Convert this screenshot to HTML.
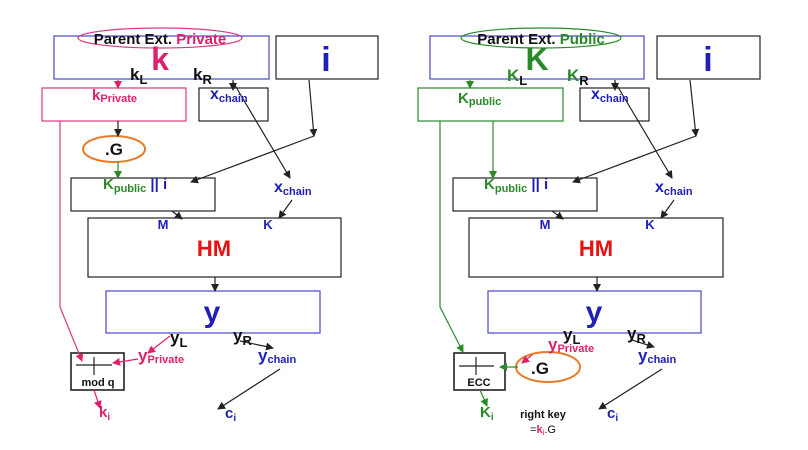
<!DOCTYPE html>
<html><head><meta charset="utf-8"><style>
html,body{margin:0;padding:0;background:#fff;}
svg{display:block;font-family:"Liberation Sans",Arial,sans-serif;font-weight:bold;}
</style></head><body>
<svg width="808" height="450" viewBox="0 0 808 450" xmlns="http://www.w3.org/2000/svg">
<defs>
<marker id="ab" markerWidth="8" markerHeight="8" refX="7" refY="4" orient="auto" markerUnits="userSpaceOnUse"><path d="M0,0 L8,4 L0,8 z" fill="#222"/></marker>
<marker id="ap" markerWidth="8" markerHeight="8" refX="7" refY="4" orient="auto" markerUnits="userSpaceOnUse"><path d="M0,0 L8,4 L0,8 z" fill="#e0206a"/></marker>
<marker id="ag" markerWidth="8" markerHeight="8" refX="7" refY="4" orient="auto" markerUnits="userSpaceOnUse"><path d="M0,0 L8,4 L0,8 z" fill="#2a8a2a"/></marker>
</defs>
<g fill="none" stroke-width="1.2">
<!-- LEFT -->
<rect x="54" y="36" width="215" height="43" stroke="#4848c8"/>
<rect x="276" y="36" width="102" height="43" stroke="#222"/>
<rect x="42" y="88" width="144" height="33" stroke="#d83a80"/>
<rect x="199" y="88" width="69" height="33" stroke="#222"/>
<rect x="71" y="178" width="144" height="33" stroke="#222"/>
<rect x="88" y="218" width="253" height="59" stroke="#222"/>
<rect x="106" y="291" width="214" height="42" stroke="#4848c8"/>
<rect x="71" y="353" width="53" height="37" stroke="#222" stroke-width="1.6"/>
<line x1="76" y1="365" x2="112" y2="365" stroke="#222"/>
<line x1="94" y1="357" x2="94" y2="375" stroke="#222"/>
<ellipse cx="160" cy="38" rx="82" ry="10" stroke="#d83a80"/>
<ellipse cx="114" cy="149" rx="31" ry="13" stroke="#e87a28" stroke-width="2"/>
<line x1="118" y1="80" x2="118" y2="88" stroke="#e0206a" marker-end="url(#ap)"/>
<line x1="233" y1="80" x2="233" y2="90" stroke="#222" marker-end="url(#ab)"/>
<line x1="233" y1="82" x2="290" y2="178" stroke="#222" marker-end="url(#ab)"/>
<line x1="309" y1="80" x2="314" y2="136" stroke="#222" marker-end="url(#ab)"/>
<line x1="314" y1="136" x2="191" y2="182" stroke="#222" marker-end="url(#ab)"/>
<line x1="118" y1="121" x2="118" y2="136" stroke="#222" marker-end="url(#ab)"/>
<line x1="118" y1="162" x2="118" y2="178" stroke="#2a8a2a" marker-end="url(#ag)"/>
<line x1="172" y1="211" x2="182" y2="219" stroke="#222" marker-end="url(#ab)"/>
<line x1="292" y1="200" x2="279" y2="218" stroke="#222" marker-end="url(#ab)"/>
<line x1="215" y1="277" x2="215" y2="291" stroke="#222" marker-end="url(#ab)"/>
<polyline points="60,121 60,307 82,361" stroke="#d83a80" marker-end="url(#ap)"/>
<line x1="170" y1="336" x2="148" y2="353" stroke="#e0206a" marker-end="url(#ap)"/>
<line x1="138" y1="359" x2="113" y2="363" stroke="#e0206a" marker-end="url(#ap)"/>
<line x1="94" y1="390" x2="100" y2="408" stroke="#e0206a" marker-end="url(#ap)"/>
<line x1="240" y1="341" x2="273" y2="348" stroke="#222" marker-end="url(#ab)"/>
<line x1="280" y1="369" x2="218" y2="409" stroke="#222" marker-end="url(#ab)"/>
<!-- RIGHT -->
<rect x="430" y="36" width="214" height="43" stroke="#4848c8"/>
<rect x="657" y="36" width="103" height="43" stroke="#222"/>
<rect x="418" y="88" width="145" height="33" stroke="#2a8a2a"/>
<rect x="580" y="88" width="69" height="33" stroke="#222"/>
<rect x="453" y="178" width="144" height="33" stroke="#222"/>
<rect x="469" y="218" width="254" height="59" stroke="#222"/>
<rect x="488" y="291" width="213" height="42" stroke="#4848c8"/>
<rect x="454" y="353" width="51" height="37" stroke="#222" stroke-width="1.6"/>
<line x1="459" y1="366" x2="494" y2="366" stroke="#222"/>
<line x1="476" y1="357" x2="476" y2="375" stroke="#222"/>
<ellipse cx="541" cy="38" rx="80" ry="10" stroke="#2a8a2a"/>
<ellipse cx="548" cy="367" rx="32" ry="15" stroke="#e87a28" stroke-width="2"/>
<line x1="470" y1="80" x2="470" y2="88" stroke="#2a8a2a" marker-end="url(#ag)"/>
<line x1="615" y1="80" x2="615" y2="90" stroke="#222" marker-end="url(#ab)"/>
<line x1="615" y1="82" x2="672" y2="178" stroke="#222" marker-end="url(#ab)"/>
<line x1="690" y1="80" x2="696" y2="136" stroke="#222" marker-end="url(#ab)"/>
<line x1="696" y1="136" x2="573" y2="182" stroke="#222" marker-end="url(#ab)"/>
<line x1="493" y1="121" x2="493" y2="178" stroke="#2a8a2a" marker-end="url(#ag)"/>
<line x1="552" y1="211" x2="563" y2="219" stroke="#222" marker-end="url(#ab)"/>
<line x1="674" y1="200" x2="661" y2="218" stroke="#222" marker-end="url(#ab)"/>
<line x1="597" y1="277" x2="597" y2="291" stroke="#222" marker-end="url(#ab)"/>
<polyline points="440,121 440,307 463,352" stroke="#2a8a2a" marker-end="url(#ag)"/>
<line x1="532" y1="355" x2="522" y2="363" stroke="#e0206a" marker-end="url(#ap)"/>
<line x1="518" y1="367" x2="500" y2="367" stroke="#2a8a2a" marker-end="url(#ag)"/>
<line x1="480" y1="390" x2="487" y2="406" stroke="#2a8a2a" marker-end="url(#ag)"/>
<line x1="632" y1="340" x2="654" y2="347" stroke="#222" marker-end="url(#ab)"/>
<line x1="662" y1="369" x2="599" y2="409" stroke="#222" marker-end="url(#ab)"/>
</g>
<!-- LEFT text -->
<text x="160" y="44" font-size="15" text-anchor="middle"><tspan fill="#111">Parent Ext. </tspan><tspan fill="#e0206a">Private</tspan></text>
<text x="160" y="70" font-size="32" fill="#e0206a" text-anchor="middle">k</text>
<text x="326" y="71" font-size="34" fill="#2020b8" text-anchor="middle">i</text>
<text x="130" y="80" font-size="17" fill="#111">k<tspan font-size="13" dy="4">L</tspan></text>
<text x="193" y="80" font-size="17" fill="#111">k<tspan font-size="13" dy="4">R</tspan></text>
<text x="92" y="100" font-size="15" fill="#e0206a">k<tspan font-size="11" dy="2">Private</tspan></text>
<text x="210" y="99" font-size="16" fill="#2020b8">x<tspan font-size="11" dy="3">chain</tspan></text>
<text x="114" y="155" font-size="17" fill="#111" text-anchor="middle">.G</text>
<text x="103" y="189" font-size="15" fill="#2a8a2a">K<tspan font-size="11" dy="3">public</tspan><tspan fill="#2020b8" font-size="15" dy="-3"> || i</tspan></text>
<text x="274" y="192" font-size="16" fill="#2020b8">x<tspan font-size="11" dy="3">chain</tspan></text>
<text x="163" y="229" font-size="13" fill="#2020b8" text-anchor="middle">M</text>
<text x="268" y="229" font-size="13" fill="#2020b8" text-anchor="middle">K</text>
<text x="214" y="256" font-size="22" fill="#e81010" text-anchor="middle">HM</text>
<text x="212" y="322" font-size="30" fill="#2020b8" text-anchor="middle">y</text>
<text x="170" y="343" font-size="17" fill="#111">y<tspan font-size="13" dy="4">L</tspan></text>
<text x="233" y="341" font-size="17" fill="#111">y<tspan font-size="13" dy="4">R</tspan></text>
<text x="138" y="361" font-size="17" fill="#e0206a">y<tspan font-size="11" dy="2">Private</tspan></text>
<text x="258" y="361" font-size="17" fill="#2020b8">y<tspan font-size="11" dy="2">chain</tspan></text>
<text x="98" y="386" font-size="11" fill="#111" text-anchor="middle">mod q</text>
<text x="99" y="417" font-size="15" fill="#e0206a">k<tspan font-size="10" dy="3">i</tspan></text>
<text x="225" y="418" font-size="15" fill="#2020b8">c<tspan font-size="10" dy="3">i</tspan></text>
<!-- RIGHT text -->
<text x="541" y="44" font-size="15" text-anchor="middle"><tspan fill="#111">Parent Ext. </tspan><tspan fill="#2a8a2a">Public</tspan></text>
<text x="537" y="70" font-size="32" fill="#2a8a2a" text-anchor="middle">K</text>
<text x="708" y="71" font-size="34" fill="#2020b8" text-anchor="middle">i</text>
<text x="507" y="81" font-size="17" fill="#2a8a2a">K<tspan font-size="13" dy="4" fill="#111">L</tspan></text>
<text x="567" y="81" font-size="17" fill="#2a8a2a">K<tspan font-size="13" dy="4" fill="#111">R</tspan></text>
<text x="458" y="103" font-size="15" fill="#2a8a2a">K<tspan font-size="11" dy="2">public</tspan></text>
<text x="591" y="99" font-size="16" fill="#2020b8">x<tspan font-size="11" dy="3">chain</tspan></text>
<text x="484" y="189" font-size="15" fill="#2a8a2a">K<tspan font-size="11" dy="3">public</tspan><tspan fill="#2020b8" font-size="15" dy="-3"> || i</tspan></text>
<text x="655" y="192" font-size="16" fill="#2020b8">x<tspan font-size="11" dy="3">chain</tspan></text>
<text x="545" y="229" font-size="13" fill="#2020b8" text-anchor="middle">M</text>
<text x="650" y="229" font-size="13" fill="#2020b8" text-anchor="middle">K</text>
<text x="596" y="256" font-size="22" fill="#e81010" text-anchor="middle">HM</text>
<text x="594" y="322" font-size="30" fill="#2020b8" text-anchor="middle">y</text>
<text x="563" y="340" font-size="17" fill="#111">y<tspan font-size="13" dy="4">L</tspan></text>
<text x="627" y="339" font-size="17" fill="#111">y<tspan font-size="13" dy="4">R</tspan></text>
<text x="548" y="350" font-size="17" fill="#e0206a">y<tspan font-size="11" dy="2">Private</tspan></text>
<text x="638" y="361" font-size="17" fill="#2020b8">y<tspan font-size="11" dy="2">chain</tspan></text>
<text x="531" y="374" font-size="17" fill="#111">.G</text>
<text x="479" y="386" font-size="11" fill="#111" text-anchor="middle">ECC</text>
<text x="480" y="417" font-size="15" fill="#2a8a2a">K<tspan font-size="10" dy="3">i</tspan></text>
<text x="543" y="418" font-size="11" fill="#111" text-anchor="middle">right key</text>
<text x="543" y="433" font-size="11" fill="#111" text-anchor="middle" font-weight="normal">=<tspan fill="#e0206a" font-weight="bold">k</tspan><tspan fill="#e0206a" font-size="8" dy="2">i</tspan><tspan dy="-2">.G</tspan></text>
<text x="607" y="418" font-size="15" fill="#2020b8">c<tspan font-size="10" dy="3">i</tspan></text>
</svg>
</body></html>
